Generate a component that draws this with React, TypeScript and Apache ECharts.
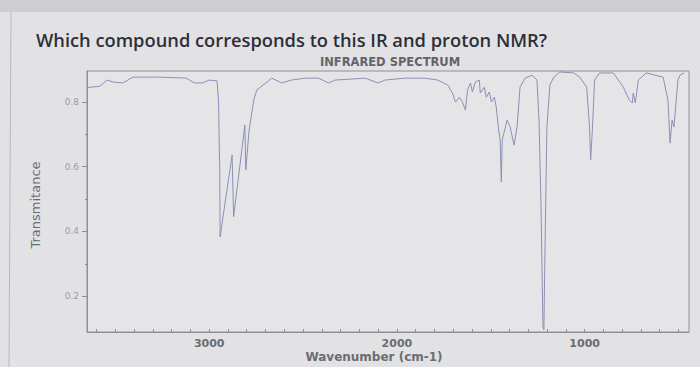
import React, { useEffect, useRef } from "react";
import * as echarts from "echarts";

const titleText = "Which compound corresponds to this IR and proton NMR?";
const chartTitle = "INFRARED SPECTRUM";
const xName = "Wavenumber (cm-1)";
const yName = "Transmitance";

const xLabelValues = [1000, 2000, 3000];
const xTickValues = [500, 600, 700, 800, 900, 1000, 1100, 1200, 1300, 1400, 1500, 1600, 1700, 1800, 1900, 2000, 2100, 2200, 2300, 2400, 2500, 2600, 2700, 2800, 2900, 3000, 3100, 3200, 3300, 3400, 3500, 3600];
const yLabelValues = [0.2, 0.4, 0.6, 0.8];
const yMinorTickValues = [0.3, 0.5, 0.7];

const wavenumber = [
  3645, 3582, 3545, 3513, 3460, 3407, 3265, 3122, 3079, 3037, 3000, 2958, 2950, 2945, 2944, 2942,
  2878, 2870, 2810, 2805, 2788, 2762, 2746, 2698, 2667, 2614, 2561, 2487, 2418, 2365, 2328, 2243,
  2169, 2101, 2063, 1958, 1852, 1783, 1730, 1704, 1688, 1667, 1651, 1635, 1624, 1608, 1598, 1582,
  1561, 1556, 1534, 1524, 1508, 1497, 1481, 1471, 1460, 1450, 1444, 1439, 1413, 1397, 1376, 1360,
  1344, 1317, 1280, 1254, 1243, 1233, 1222, 1217, 1212, 1201, 1185, 1164, 1132, 1058, 1026, 989,
  974, 968, 958, 947, 921, 847, 794, 762, 746, 741, 730, 714, 672, 582, 556, 545, 534, 524, 503,
  492, 470,
];
const transmittance = [
  0.845, 0.849, 0.868, 0.862, 0.859, 0.877, 0.877, 0.874, 0.859, 0.859, 0.868, 0.865, 0.8, 0.62, 0.6, 0.383,
  0.636, 0.445, 0.729, 0.59, 0.71, 0.808, 0.838, 0.859, 0.874, 0.859, 0.868, 0.874, 0.874, 0.859, 0.868, 0.871,
  0.874, 0.859, 0.868, 0.874, 0.874, 0.868, 0.853, 0.828, 0.8, 0.815, 0.8, 0.775, 0.837, 0.859, 0.831, 0.862,
  0.868, 0.828, 0.846, 0.815, 0.831, 0.8, 0.815, 0.785, 0.723, 0.683, 0.553, 0.683, 0.744, 0.723, 0.667, 0.723,
  0.846, 0.874, 0.883, 0.868, 0.744, 0.497, 0.105, 0.096, 0.312, 0.723, 0.853, 0.877, 0.893, 0.89, 0.877, 0.846,
  0.723, 0.621, 0.723, 0.868, 0.89, 0.89, 0.846, 0.806, 0.797, 0.828, 0.797, 0.868, 0.89, 0.877, 0.806, 0.673, 0.744, 0.723, 0.868,
  0.883, 0.89,
];

export default function App() {
  const ref = useRef<HTMLDivElement>(null);
  useEffect(() => {
    if (!ref.current) return;
    const chart = echarts.init(ref.current, null, { renderer: "svg" });
    const data = wavenumber.map((w, i) => [w, transmittance[i]]);
    const axisColor = "#8e9096";
    chart.setOption({
      animation: false,
      backgroundColor: "#e2e2e4",
      title: {
        text: titleText,
        left: 31,
        top: 25,
        textStyle: { fontFamily: "Open Sans", fontSize: 18.3, fontWeight: 600, color: "#2e2e3a" },
      },
      graphic: [
        { type: "rect", shape: { x: 0, y: 0, width: 700, height: 12 }, style: { fill: "#cdced1" } },
        { type: "line", shape: { x1: 11, y1: 12, x2: 9, y2: 367 }, style: { stroke: "#b8b9bd", lineWidth: 1 } },
        {
          type: "text", x: 390, y: 62,
          style: { text: chartTitle, fontFamily: "DejaVu Sans", fontSize: 11.5, fontWeight: 600, fill: "#62646c", align: "center", verticalAlign: "middle" },
        },
        {
          type: "text", x: 374, y: 357,
          style: { text: xName, fontFamily: "DejaVu Sans", fontSize: 12, fontWeight: 600, fill: "#6a6c73", align: "center", verticalAlign: "middle" },
        },
        {
          type: "text", x: 35, y: 205, rotation: Math.PI / 2,
          style: { text: yName, fontFamily: "DejaVu Sans", fontSize: 13, fill: "#6a6c73", align: "center", verticalAlign: "middle" },
        },
      ],
      grid: {
        left: 87, right: 11, top: 71, bottom: 35,
        show: true, backgroundColor: "#e5e5e7", borderColor: axisColor, borderWidth: 1,
      },
      xAxis: {
        type: "value", inverse: true, min: 444, max: 3651,
        axisLine: { show: true, lineStyle: { color: axisColor } },
        axisTick: { show: true, inside: true, length: 3, customValues: xTickValues, lineStyle: { color: axisColor } },
        axisLabel: {
          customValues: xLabelValues, margin: 6,
          fontFamily: "DejaVu Sans", fontSize: 11, fontWeight: 600, color: "#6a6c73",
          formatter: (v: number) => String(v),
        },
        splitLine: { show: false },
      },
      yAxis: [
        {
          type: "value", min: 0.089, max: 0.896,
          axisLine: { show: true, lineStyle: { color: axisColor } },
          axisTick: { show: true, length: 5, customValues: yLabelValues, lineStyle: { color: axisColor } },
          axisLabel: {
            customValues: yLabelValues, margin: 8,
            fontFamily: "DejaVu Sans", fontSize: 9, color: "#9a9ca3",
            formatter: (v: number) => v.toFixed(1),
          },
          splitLine: { show: false },
        },
        {
          type: "value", min: 0.089, max: 0.896, position: "left",
          axisLine: { show: false },
          axisTick: { show: true, length: 2, customValues: yMinorTickValues, lineStyle: { color: axisColor } },
          axisLabel: { show: false },
          splitLine: { show: false },
        },
      ],
      series: [
        {
          type: "line", data, showSymbol: false, symbol: "none",
          lineStyle: { color: "#8a90b6", width: 1 },
        },
      ],
    });
    return () => chart.dispose();
  }, []);
  return <div ref={ref} style={{ width: 700, height: 367, position: "absolute", left: 0, top: 0 }} />;
}
